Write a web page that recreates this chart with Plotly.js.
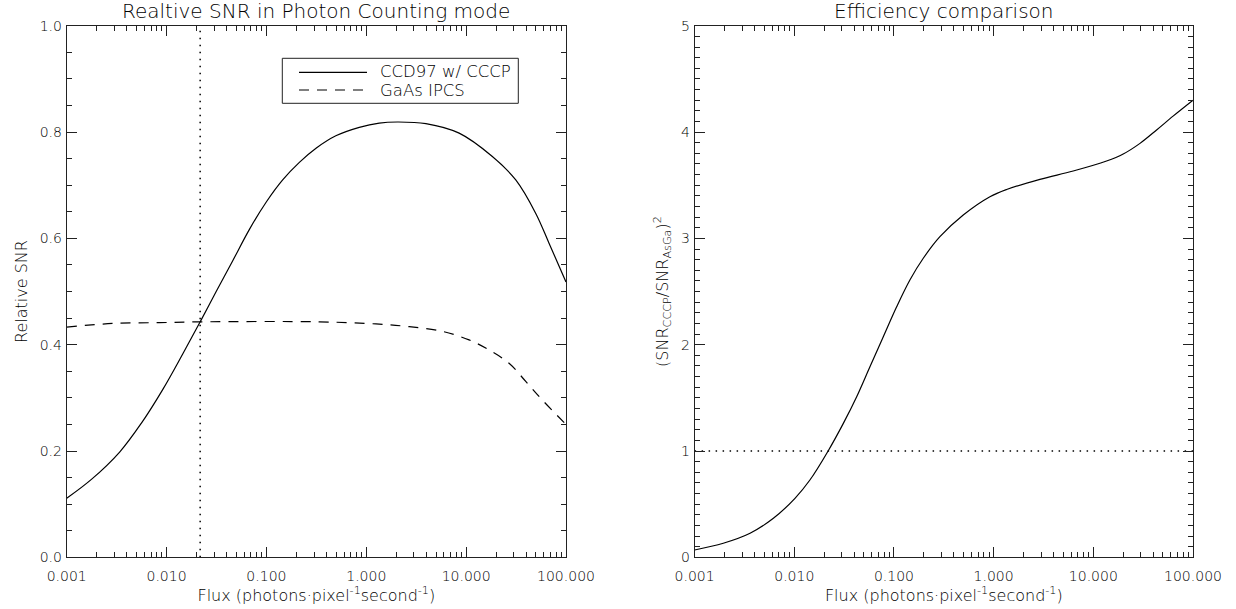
<!DOCTYPE html>
<html>
<head>
<meta charset="utf-8">
<script src="https://cdn.plot.ly/plotly-3.0.1.min.js"></script>
<style>html,body{margin:0;padding:0;background:#fff;}#chart{width:1236px;height:609px;}</style>
</head>
<body>
<div id="chart"></div>
<script>
// ---- data ----
var fluxCCD = [0.001, 0.00178, 0.00339, 0.00558, 0.00918, 0.01456, 0.0217, 0.0314, 0.0460, 0.0676, 0.0993, 0.1455, 0.2138, 0.3162, 0.4955, 0.8511, 1.349, 2.056, 3.954, 8.51, 18.3, 31.4, 49.8, 67.6, 100];
var snrCCD  = [0.111, 0.147, 0.198, 0.252, 0.316, 0.383, 0.443, 0.500, 0.558, 0.617, 0.668, 0.710, 0.743, 0.770, 0.793, 0.809, 0.817, 0.819, 0.816, 0.798, 0.754, 0.710, 0.647, 0.591, 0.518];

var fluxGaAs = [0.001, 0.00288, 0.00851, 0.0217, 0.339, 1.25, 2.69, 5.79, 10.7, 17.0, 26.9, 39.5, 57.9, 100];
var snrGaAs  = [0.433, 0.440, 0.4415, 0.443, 0.443, 0.439, 0.434, 0.425, 0.409, 0.390, 0.365, 0.331, 0.296, 0.250];

var fluxRatio = [0.001, 0.00194, 0.00360, 0.00617, 0.01016, 0.01435, 0.02193, 0.03105, 0.04227, 0.05741, 0.07816, 0.1064, 0.1445, 0.1968, 0.2891, 0.4955, 0.918, 1.349, 2.911, 6.281, 13.58, 19.95, 29.38, 43.15, 63.10, 100];
var effRatio  = [0.069, 0.132, 0.226, 0.367, 0.555, 0.727, 1.003, 1.26, 1.511, 1.793, 2.075, 2.357, 2.609, 2.813, 3.016, 3.22, 3.392, 3.46, 3.556, 3.634, 3.728, 3.794, 3.894, 4.02, 4.15, 4.30];

var crossFlux = [0.0217, 0.0217];
var crossSpan = [0, 1];
var unityFlux = [0.001, 100];
var unityLevel = [1, 1];

var seriesNames = ['CCD97 w/ CCCP', 'GaAs IPCS'];
var titles = ['Realtive SNR in Photon Counting mode', 'Efficiency comparison'];
var xTitle = 'Flux (photons·pixel<sup>-1</sup>second<sup>-1</sup>)';
var yTitles = ['Relative SNR', '(SNR<sub>CCCP</sub>/SNR<sub>AsGa</sub>)<sup>2</sup>'];

// ---- styling ----
var FONT = 'DejaVu Sans ExtraLight, DejaVu Sans, sans-serif';
var INK = '#000';
var AX = '#222';

var traces = [
  {x: fluxCCD, y: snrCCD, xaxis: 'x', yaxis: 'y', mode: 'lines', name: seriesNames[0],
   line: {color: INK, width: 1.2, shape: 'spline', smoothing: 1}, showlegend: false},
  {x: fluxGaAs, y: snrGaAs, xaxis: 'x', yaxis: 'y', mode: 'lines', name: seriesNames[1],
   line: {color: INK, width: 1.2, dash: '10px,8px', shape: 'spline', smoothing: 1}, showlegend: false},
  {x: crossFlux, y: crossSpan, xaxis: 'x', yaxis: 'y', mode: 'lines',
   line: {color: INK, width: 1.5, dash: '1.5px,5.5px'}, showlegend: false, hoverinfo: 'skip'},
  {x: fluxRatio, y: effRatio, xaxis: 'x2', yaxis: 'y2', mode: 'lines', name: 'ratio',
   line: {color: INK, width: 1.2, shape: 'spline', smoothing: 1}, showlegend: false},
  {x: unityFlux, y: unityLevel, xaxis: 'x2', yaxis: 'y2', mode: 'lines',
   line: {color: INK, width: 1.5, dash: '1.5px,5.5px'}, showlegend: false, hoverinfo: 'skip'}
];

function xAxis(domain, anchor) {
  return {
    domain: domain, anchor: anchor, type: 'log', range: [-3, 2],
    tickmode: 'linear', tick0: 0, dtick: 1, tickformat: '.3f',
    ticks: 'inside', ticklen: 10, tickwidth: 1, tickcolor: AX,
    minor: {ticks: 'inside', ticklen: 5, tickcolor: AX, dtick: 'D1'},
    showline: true, linecolor: AX, mirror: 'allticks',
    showgrid: false, zeroline: false,
    ticklabelstandoff: 6,
    tickfont: {family: FONT, size: 14, color: INK, weight: 200},
    title: {text: xTitle, font: {family: FONT, size: 16, color: INK, weight: 200}, standoff: 2}
  };
}
function yAxis(domain, anchor, range, step, fmt, minorStep, title) {
  return {
    domain: domain, anchor: anchor, range: range,
    tick0: 0, dtick: step, tickformat: fmt,
    ticks: 'inside', ticklen: 10, tickcolor: AX,
    minor: {ticks: 'inside', ticklen: 5, tickcolor: AX, dtick: minorStep},
    showline: true, linecolor: AX, mirror: 'allticks',
    showgrid: false, zeroline: false,
    ticklabelstandoff: 1,
    tickfont: {family: FONT, size: 14, color: INK, weight: 200},
    title: {text: title, font: {family: FONT, size: 16, color: INK, weight: 200}, standoff: 8}
  };
}

var W = 1236, H = 609;
var xd1 = [66.7 / W, 566 / W];
var xd2 = [694.6 / W, 1193 / W];
var yd = [1 - 557.3 / H, 1 - 25.8 / H];

var layout = {
  width: W, height: H,
  margin: {l: 0, r: 0, t: 0, b: 0},
  paper_bgcolor: '#fff', plot_bgcolor: '#fff',
  showlegend: false,
  xaxis: xAxis(xd1, 'y'),
  yaxis: yAxis(yd, 'x', [0, 1], 0.2, '.1f', 0.05, yTitles[0]),
  xaxis2: xAxis(xd2, 'y2'),
  yaxis2: yAxis(yd, 'x2', [0, 5], 1, 'd', 0.1, yTitles[1]),
  annotations: [
    {text: titles[0], xref: 'paper', yref: 'paper', x: (xd1[0] + xd1[1]) / 2, y: 1 - 11 / H,
     xanchor: 'center', yanchor: 'middle', showarrow: false,
     font: {family: FONT, size: 20, color: INK, weight: 200}},
    {text: titles[1], xref: 'paper', yref: 'paper', x: (xd2[0] + xd2[1]) / 2, y: 1 - 11 / H,
     xanchor: 'center', yanchor: 'middle', showarrow: false,
     font: {family: FONT, size: 20, color: INK, weight: 200}},
    {text: seriesNames[0], xref: 'paper', yref: 'paper', x: 378 / W, y: 1 - 72 / H,
     xanchor: 'left', yanchor: 'middle', showarrow: false,
     font: {family: FONT, size: 16.5, color: INK, weight: 200}},
    {text: seriesNames[1], xref: 'paper', yref: 'paper', x: 378 / W, y: 1 - 90 / H,
     xanchor: 'left', yanchor: 'middle', showarrow: false,
     font: {family: FONT, size: 16.5, color: INK, weight: 200}}
  ],
  shapes: [
    {type: 'rect', xref: 'paper', yref: 'paper', x0: 282.3 / W, x1: 518.3 / W, y0: 1 - 103.3 / H, y1: 1 - 58.3 / H,
     line: {color: AX, width: 1}, fillcolor: 'rgba(0,0,0,0)'},
    {type: 'line', xref: 'paper', yref: 'paper', x0: 299 / W, x1: 367 / W, y0: 1 - 72.3 / H, y1: 1 - 72.3 / H,
     line: {color: INK, width: 1.2}},
    {type: 'line', xref: 'paper', yref: 'paper', x0: 299 / W, x1: 367 / W, y0: 1 - 90 / H, y1: 1 - 90 / H,
     line: {color: INK, width: 1.2, dash: '10px,8px'}}
  ]
};

Plotly.newPlot('chart', traces, layout, {staticPlot: true, displayModeBar: false});
</script>
</body>
</html>
